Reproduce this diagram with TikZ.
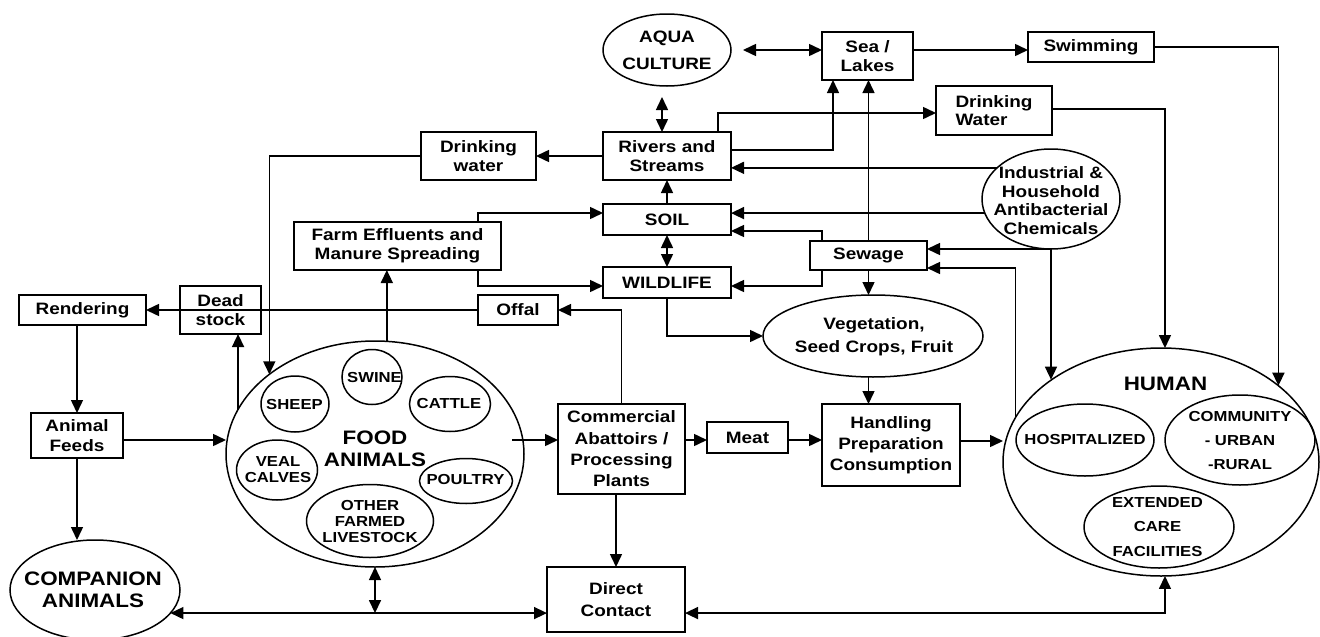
\documentclass[tikz,border=0pt]{standalone}
\usepackage{fontspec}
\setmainfont{Liberation Sans}[FakeStretch=1.15]
\usetikzlibrary{arrows.meta,shapes.geometric,calc}
\newcommand\fsz[2]{\fontsize{#1}{#2}\selectfont}
\begin{document}
\begin{tikzpicture}[x=1pt,y=-1pt,
 lw/.style={line width=1.5pt},
 bx/.style={draw,lw,inner sep=0pt,outer sep=0pt,align=center,font=\bfseries\fsz{16.5}{18.5}},
 el/.style={draw,ellipse,lw,inner sep=0pt,outer sep=0pt},
 tx/.style={align=center,inner sep=0pt,font=\bfseries\fsz{16.5}{18.5}},
 sm/.style={font=\bfseries\fsz{14.5}{16}},
 big/.style={font=\bfseries\fsz{19.5}{22}},
 arr/.style={lw,-{Triangle[length=13pt,width=12pt]}},
 darr/.style={lw,{Triangle[length=13pt,width=12pt]}-{Triangle[length=13pt,width=12pt]}},
]
\useasboundingbox (0,0) rectangle (1320,637);

% boxes
\node[bx,minimum width=91,minimum height=48] (sea) at (867.5,56) {Sea /\\Lakes};
\node[bx,minimum width=126,minimum height=30] (swim) at (1091,47) {Swimming};
\node[bx,minimum width=116,minimum height=49,align=left] (dwR) at (994,110.5) {Drinking\\Water};
\node[bx,minimum width=128,minimum height=48] (rivers) at (667,156) {Rivers and\\Streams};
\node[bx,minimum width=115,minimum height=48] (dwL) at (478.5,156) {Drinking\\water};
\node[bx,minimum width=128,minimum height=31] (soil) at (667,219.5) {SOIL};
\node[bx,minimum width=128,minimum height=31] (wild) at (667,282.5) {WILDLIFE};
\node[bx,minimum width=207,minimum height=48] (farm) at (397.5,246) {Farm Effluents and\\Manure Spreading};
\node[bx,minimum width=117,minimum height=29] (sewage) at (868.5,255.5) {Sewage};
\node[bx,minimum width=80,minimum height=30] (offal) at (518,310) {Offal};
\node[bx,minimum width=81,minimum height=48] (dead) at (220.5,310) {Dead\\stock};
\node[bx,minimum width=127,minimum height=30] (rend) at (82.5,310) {Rendering};
\node[bx,minimum width=92,minimum height=45,font=\bfseries\fsz{16.5}{20.5}] (feeds) at (77,435.5) {Animal\\Feeds};
\node[bx,minimum width=127,minimum height=90,font=\bfseries\fsz{16.5}{21.3}] (comm) at (621.5,449) {Commercial\\Abattoirs /\\Processing\\Plants};
\node[bx,minimum width=81,minimum height=31] (meat) at (747.5,437.5) {Meat};
\node[bx,minimum width=138,minimum height=82,font=\bfseries\fsz{16.5}{21}] (hand) at (891,445) {Handling\\Preparation\\Consumption};
\node[bx,minimum width=138,minimum height=65,font=\bfseries\fsz{16.5}{22}] (direct) at (616,599.5) {Direct\\Contact};

% ellipses
\node[el,minimum width=128,minimum height=72] (aqua) at (667,50) {};
\node[el,minimum width=138,minimum height=100] (ind) at (1051,199) {};
\node[el,minimum width=220,minimum height=82] (veg) at (873,336) {};
\node[el,minimum width=298,minimum height=226] (food) at (375,454) {};
\node[el,minimum width=60,minimum height=55] (swine) at (372,377) {};
\node[el,minimum width=68,minimum height=56] (sheep) at (295,404) {};
\node[el,minimum width=81,minimum height=55] (cattle) at (450,404) {};
\node[el,minimum width=81,minimum height=60] (veal) at (277,470) {};
\node[el,minimum width=93,minimum height=45] (poultry) at (466,481) {};
\node[el,minimum width=127,minimum height=73] (other) at (370,521) {};
\node[el,minimum width=316,minimum height=228] (human) at (1161,462) {};
\node[el,minimum width=138,minimum height=72] (hosp) at (1085,440) {};
\node[el,minimum width=150,minimum height=90] (commun) at (1240,440) {};
\node[el,minimum width=150,minimum height=82] (ext) at (1159,527) {};
\node[el,minimum width=170,minimum height=100] (comp) at (95,590) {};

% ellipse texts
\node[tx,font=\bfseries\fsz{16.5}{27}] (aquaT) at (667,50.5) {AQUA\\CULTURE};
\node[tx] (indT) at (1051,200.5) {Industrial \&\\Household\\Antibacterial\\Chemicals};
\node[tx,font=\bfseries\fsz{16.5}{23}] (vegT) at (874,336.5) {Vegetation,\\Seed Crops, Fruit};
\node[tx,big] (foodT) at (375,449) {FOOD\\ANIMALS};
\node[tx,sm] (swineT) at (374.5,377.5) {SWINE};
\node[tx,sm] (sheepT) at (294.5,405) {SHEEP};
\node[tx,sm] (cattleT) at (449,404) {CATTLE};
\node[tx,sm] (vealT) at (278,470) {VEAL\\CALVES};
\node[tx,sm] (poultryT) at (465.5,480) {POULTRY};
\node[tx,sm] (otherT) at (370,522) {OTHER\\FARMED\\LIVESTOCK};
\node[tx,big] (humanT) at (1165.5,384) {HUMAN};
\node[tx,sm] (hospT) at (1085,440) {HOSPITALIZED};
\node[tx,font=\bfseries\fsz{14.5}{24}] (communT) at (1240,441) {COMMUNITY\\- URBAN\\-RURAL};
\node[tx,font=\bfseries\fsz{14.5}{24.5}] (extT) at (1157.5,527) {EXTENDED\\CARE\\FACILITIES};
\node[tx,big] (compT) at (93,590) {COMPANION\\ANIMALS};

% connectors
\draw[darr] ($(aqua.east)+(12,0)$) -- (sea.west |- aqua.east);
\draw[darr] ($(aqua.south)+(-5,11)$) -- ($(rivers.north)+(-5,0)$);
\draw[arr] (sea.east |- 0,50) -- (swim.west |- 0,50);
\draw[arr] (swim.east |- 0,47) -| (human.33);
\draw[arr] (dwR.east |- 0,109) -| (human.88);
\draw[arr] (ind.south) -- (ind.south |- human.143);
\draw[arr] (ind.south) -- (sewage.east |- ind.south);
\draw[arr] (human.163) |- (sewage.east |- 0,268);
\draw[arr] (ind.150) -- (rivers.east |- ind.150);
\draw[arr] (ind.192) -- (soil.east |- ind.192);
\draw[arr] (rivers.east |- 0,150) -| (sea.south -| 833,0);
\draw[arr] (rivers.north -| 718,0) |- (dwR.west |- 0,113);
\draw[arr] (rivers.west) -- (dwL.east);
\draw[arr] (dwL.west) -| (food.143);
\draw[arr] (soil.north) -- (rivers.south);
\draw[darr] (soil.south) -- (wild.north);
\draw[arr] (farm.north -| 478,0) |- (soil.west |- 0,213);
\draw[arr] (farm.south -| 478,0) |- (wild.west |- 0,286);
\draw[arr] (sewage.north -| 822,0) |- (soil.east |- 0,231);
\draw[arr] (sewage.south -| 822,0) |- (wild.east |- 0,286);
\draw[arr] (sewage.north) -- (sewage.north |- sea.south);
\draw[arr] (sewage.south) -- (sewage.south |- veg.north);
\draw[arr] (sewage.south |- veg.south) -- (sewage.south |- hand.north);
\draw[arr] (wild.south) |- (veg.west);
\draw[arr] (comm.north) |- (offal.east);
\draw[arr] (offal.west) -- (rend.east);
\draw[arr] (food.162) -- (food.162 |- dead.south);
\draw[arr] (food.84) -- (food.84 |- farm.south);
\draw[arr] (feeds.east |- 0,440) -- (food.west |- 0,440);
\draw[arr] (rend.south -| feeds.north) -- (feeds.north);
\draw[arr] (feeds.south) -- (feeds.south |- comp.north);
\draw[arr] ($(food.east |- 0,440)+(-12,0)$) -- (comm.west |- 0,440);
\draw[arr] (comm.east |- 0,440) -- (meat.west |- 0,440);
\draw[arr] (meat.east |- 0,440) -- (hand.west |- 0,440);
\draw[arr] (hand.east |- 0,441) -- (human.west |- 0,441);
\draw[arr] (comm.south -| direct.north) -- (direct.north);
\draw[darr] (comp.-17) -- (direct.west |- comp.-17);
\draw[darr] (food.south) -- (food.south |- comp.-17);
\draw[darr] (direct.east |- comp.-17) -| (human.-88);
\end{tikzpicture}
\end{document}
